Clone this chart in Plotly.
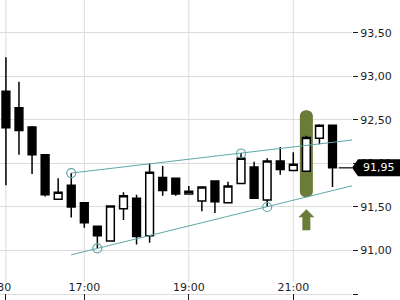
import plotly.graph_objects as go

times = ["15:30", "15:45", "16:00", "16:15", "16:30", "16:45", "17:00", "17:15", "17:30",
         "17:45", "18:00", "18:15", "18:30", "18:45", "19:00", "19:15", "19:30", "19:45",
         "20:00", "20:15", "20:30", "20:45", "21:00", "21:15", "21:30", "21:45"]
opens = [92.83, 92.64, 92.42, 92.10, 91.59, 91.75, 91.55, 91.28, 91.11, 91.48, 91.60, 91.17, 91.84,
         91.83, 91.65, 91.57, 91.80, 91.55, 91.77, 91.96, 91.58, 92.03, 91.92, 91.91, 92.29, 92.44]
highs = [93.22, 92.94, 92.43, 92.10, 91.83, 91.89, 91.55, 91.28, 91.51, 91.67, 91.64, 92.00, 91.97,
         91.84, 91.74, 91.73, 91.80, 91.79, 92.12, 92.02, 92.06, 92.19, 92.13, 92.32, 92.45, 92.44]
lows = [91.75, 92.10, 91.88, 91.62, 91.59, 91.38, 91.26, 91.03, 91.11, 91.35, 91.07, 91.09, 91.63,
        91.63, 91.65, 91.45, 91.43, 91.54, 91.77, 91.60, 91.50, 91.87, 91.92, 91.91, 92.22, 91.73]
closes = [92.41, 92.38, 92.10, 91.64, 91.67, 91.50, 91.32, 91.17, 91.51, 91.63, 91.16, 91.90, 91.69,
          91.65, 91.68, 91.73, 91.56, 91.74, 92.06, 91.60, 92.03, 91.93, 91.99, 92.30, 92.44, 91.95]

# trend channel (end points) and pivot markers
upper_t = ["16:45", "22:08"]
upper_p = [91.89, 92.27]
lower_t = ["16:45", "22:08"]
lower_p = [90.95, 91.745]
pivot_t = ["16:45", "17:15", "20:00", "20:30"]
pivot_p = [91.89, 91.025, 92.115, 91.50]

last_price = 91.95
signal_time = "21:15"
signal_mid = 92.113
arrow_tip = 91.474

y_ticks = [90.5, 91.0, 91.5, 92.0, 92.5, 93.0, 93.5]
x_tickvals = ["15:30", "17:00", "19:00", "21:00"]
x_ticktext = ["15:30", "17:00", "19:00", "21:00"]

x_range = ["15:23.2", "22:07.4"]
y_range = [90.431, 93.879]


def m(t):
    """'HH:MM' (minutes may be fractional) -> minutes since midnight"""
    h, mm = t.split(":")
    return int(h) * 60 + float(mm)


teal = "#5fa6aa"
green = "#6a7c37"
ink = "#1e1e1e"

# first label sits left of its tick in the reference (cut by the edge)
tick_labels = [x_ticktext[0] + "\u00a0" * 6] + x_ticktext[1:]

fig = go.Figure()

fig.add_trace(go.Scatter(x=[m(t) for t in upper_t], y=upper_p, mode="lines",
                         line=dict(color=teal, width=1), hoverinfo="skip", showlegend=False))
fig.add_trace(go.Scatter(x=[m(t) for t in lower_t], y=lower_p, mode="lines",
                         line=dict(color=teal, width=1), hoverinfo="skip", showlegend=False))

fig.add_trace(go.Candlestick(
    x=[m(t) for t in times], open=opens, high=highs, low=lows, close=closes,
    increasing=dict(fillcolor="white", line=dict(color="black", width=1.5)),
    decreasing=dict(fillcolor="black", line=dict(color="black", width=1.5)),
    whiskerwidth=0, showlegend=False))

fig.add_trace(go.Scatter(x=[m(t) for t in pivot_t], y=pivot_p, mode="markers",
                         marker=dict(symbol="circle-open", size=9, color=teal, line=dict(width=1.2)),
                         hoverinfo="skip", showlegend=False))

# last-price line
fig.add_trace(go.Scatter(x=[m("21:52"), m("22:08")], y=[last_price, last_price], mode="lines",
                         line=dict(color="black", width=1.2), hoverinfo="skip", showlegend=False))

# vertical grid lines (stop above the time labels)
for t in x_tickvals:
    fig.add_shape(type="line", xref="x", yref="paper", x0=m(t), x1=m(t), y0=0.06, y1=1,
                  line=dict(color="#dcdcdc", width=1), layer="below")

# signal highlight pill
fig.add_shape(type="path", xref="x", yref="y", xsizemode="pixel", ysizemode="pixel",
              xanchor=m(signal_time), yanchor=signal_mid,
              path="M -6.5 -37.5 L -6.5 37.5 C -6.5 45.5 6.5 45.5 6.5 37.5 L 6.5 -37.5 "
                   "C 6.5 -45.5 -6.5 -45.5 -6.5 -37.5 Z",
              fillcolor=green, line=dict(width=0), layer="between")

# up arrow
fig.add_shape(type="path", xref="x", yref="y", xsizemode="pixel", ysizemode="pixel",
              xanchor=m(signal_time), yanchor=arrow_tip,
              path="M 0 0 L 8 -8 L 4 -8 L 4 -21 L -4 -21 L -4 -8 L -8 -8 Z",
              fillcolor=green, line=dict(width=0), layer="above")

# price tag
fig.add_shape(type="path", xref="paper", yref="y", xsizemode="pixel", ysizemode="pixel",
              xanchor=1, yanchor=last_price,
              path="M 0 0 L 6 8.5 L 50 8.5 L 50 -8.5 L 6 -8.5 Z",
              fillcolor="black", line=dict(width=0), layer="above")
fig.add_annotation(xref="paper", yref="y", x=1, y=last_price, xanchor="left", xshift=9,
                   text=f"{last_price:.2f}".replace(".", ","), showarrow=False,
                   font=dict(family="DejaVu Sans", size=11, color="white"))

fig.update_layout(
    width=400, height=300, margin=dict(l=0, r=48, t=0, b=0, autoexpand=False),
    paper_bgcolor="white", plot_bgcolor="white",
    separators=",.", boxgap=0.15,
    font=dict(family="DejaVu Sans", size=11, color=ink),
    showlegend=False,
)
fig.update_xaxes(
    range=[m(x_range[0]), m(x_range[1])], type="linear", automargin=False,
    rangeslider=dict(visible=False), showgrid=False, zeroline=False, showline=False,
    tickmode="array", tickvals=[m(t) for t in x_tickvals], ticktext=tick_labels,
    ticks="inside", ticklen=6, tickcolor=ink, tickwidth=1,
    ticklabelposition="inside", ticklabeloverflow="allow",
    tickfont=dict(family="DejaVu Sans", size=11, color=ink),
)
fig.update_yaxes(
    range=y_range, side="right", showgrid=True, gridcolor="#dcdcdc", gridwidth=1,
    zeroline=False, showline=False, automargin=False,
    tickmode="array", tickvals=y_ticks, tickformat=".2f",
    ticks="outside", ticklen=5, tickcolor=ink, tickwidth=1,
    tickfont=dict(family="DejaVu Sans", size=11, color=ink),
)

fig.write_html("out.html")
